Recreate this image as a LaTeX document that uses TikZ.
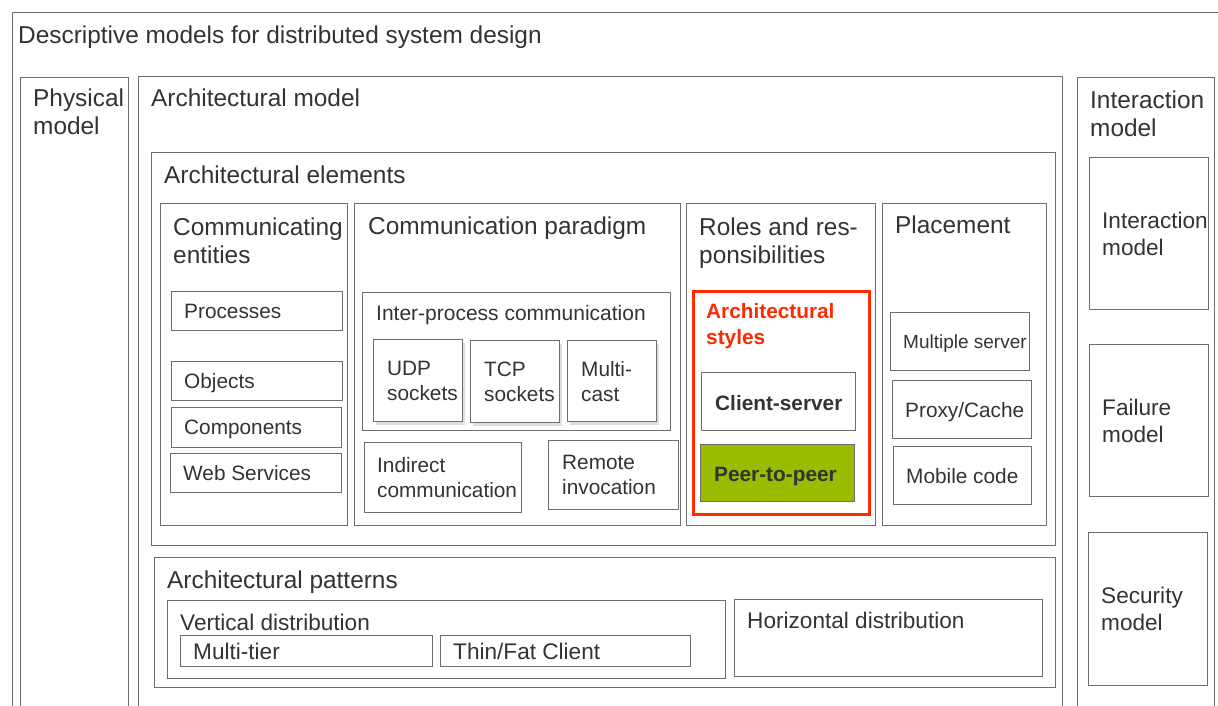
\documentclass[tikz,border=0pt]{standalone}
\usepackage{fontspec}
\setmainfont{Liberation Sans}
\usetikzlibrary{positioning,shadows}
\definecolor{linegray}{HTML}{6E6E6E}
\definecolor{textgray}{HTML}{333333}
\definecolor{stylered}{HTML}{FF2A00}
\definecolor{peergreen}{HTML}{99BB00}

\begin{document}
\begin{tikzpicture}[x=1pt, y=-1pt,
  cell/.style 2 args={draw=linegray, line width=1.2pt, rectangle, inner sep=0pt,
    anchor=north west, minimum width=#1pt, minimum height=#2pt},
  heading/.style={anchor=base west, inner sep=0pt, text=textgray, align=left,
    font=\fontsize{24.4}{28}\selectfont},
  sub_heading/.style={heading, font=\fontsize{21}{25}\selectfont},
  leaf/.style={inner sep=0pt, text=textgray, align=left, font=\fontsize{20.8}{25}\selectfont},
  big_leaf/.style={leaf, font=\fontsize{22.6}{27}\selectfont},
  sock/.style={fill=white, drop shadow={opacity=0.25, shadow xshift=2pt, shadow yshift=-3pt}},
  red_cell/.style={draw=stylered, line width=3pt},
  green_cell/.style={fill=peergreen}
  ]
	\fill[white] (0,0) rectangle (1218,706);
	\useasboundingbox (0,0) rectangle (1218,706);

	% outer frames (two-line headings sit on the baseline of their last line)
	\node[cell={1230}{720}] (desc) at (12,12) {};
	\node[heading] (desc-t) at (18,44) {Descriptive models for distributed system design};

	\node[cell={108}{650}] (phys) at (20,77) {};
	\node[heading] (phys-t) at (33,135) {Physical\\model};

	\node[cell={924}{650}] (arch) at (138,76) {};
	\node[heading] (arch-t) at (151,107) {Architectural model};

	\node[cell={137}{650}] (inter) at (1077,77) {};
	\node[heading] (inter-t) at (1090,136) {Interaction\\model};

	% architectural elements
	\node[cell={904}{393}] (elem) at (151,152) {};
	\node[heading] (elem-t) at (164,183) {Architectural elements};

	\node[cell={187}{322}] (comm) at (160,203) {};
	\node[heading] (comm-t) at (173,263) {Communicating\\entities};
	\node[cell={171}{39}] (proc) at (171,291) {};
	\node[leaf, right=13pt of proc.west] (proc-t) {Processes};
	\node[cell={171}{39}] (obj) at (171,361) {};
	\node[leaf, right=13pt of obj.west, yshift=-2pt] (obj-t) {Objects};
	\node[cell={170}{40}] (comp) at (171,407) {};
	\node[leaf, right=13pt of comp.west, yshift=-2pt] (comp-t) {Components};
	\node[cell={171}{39}] (web) at (170,453) {};
	\node[leaf, right=13pt of web.west] (web-t) {Web Services};

	\node[cell={326}{322}] (para) at (354,203) {};
	\node[heading] (para-t) at (368,234) {Communication paradigm};
	\node[cell={308}{138}] (ipc) at (362,292) {};
	\node[sub_heading] (ipc-t) at (376,320) {Inter-process communication};
	\node[cell={89}{82}, sock] (udp) at (373,339) {};
	\node[leaf, right=14pt of udp.west] (udp-t) {UDP\\sockets};
	\node[cell={89}{82}, sock] (tcp) at (470,340) {};
	\node[leaf, right=14pt of tcp.west] (tcp-t) {TCP\\sockets};
	\node[cell={89}{81}, sock] (mcast) at (567,340) {};
	\node[leaf, right=14pt of mcast.west] (mcast-t) {Multi-\\cast};
	\node[cell={157}{70}] (indir) at (364,442) {};
	\node[leaf, right=13pt of indir.west] (indir-t) {Indirect\\communication};
	\node[cell={130}{69}] (remote) at (548,440) {};
	\node[leaf, right=14pt of remote.west] (remote-t) {Remote\\invocation};

	\node[cell={189}{322}] (roles) at (686,203) {};
	\node[heading] (roles-t) at (699,263) {Roles and res-\\ponsibilities};
	\node[cell={176}{223}, red_cell] (styles) at (692,290) {};
	\node[leaf, anchor=base west, text=stylered, font=\fontsize{20.8}{26}\selectfont\bfseries] (styles-t) at (706,344) {Architectural\\styles};
	\node[cell={154}{58}] (cs) at (701,372) {};
	\node[leaf, font=\fontsize{20.8}{25}\selectfont\bfseries, right=14pt of cs.west, yshift=-1pt] (cs-t) {Client-server};
	\node[cell={154}{57}, green_cell] (p2p) at (700,444) {};
	\node[leaf, font=\fontsize{20.8}{25}\selectfont\bfseries, right=14pt of p2p.west, yshift=-3pt] (p2p-t) {Peer-to-peer};

	\node[cell={164}{322}] (place) at (882,203) {};
	\node[heading] (place-t) at (895,233) {Placement};
	\node[cell={139}{58}] (multi) at (890,312) {};
	\node[leaf, font=\fontsize{19}{23}\selectfont, right=13pt of multi.west, yshift=-2pt] (multi-t) {Multiple server};
	\node[cell={139}{58}] (proxy) at (892,380) {};
	\node[leaf, right=13pt of proxy.west, yshift=-3pt] (proxy-t) {Proxy/Cache};
	\node[cell={138}{58}] (mobile) at (893,446) {};
	\node[leaf, right=13pt of mobile.west] (mobile-t) {Mobile code};

	% architectural patterns
	\node[cell={901}{130}] (pat) at (154,557) {};
	\node[heading] (pat-t) at (167,588) {Architectural patterns};
	\node[cell={558}{78}] (vert) at (167,600) {};
	\node[heading, font=\fontsize{22.6}{27}\selectfont] (vert-t) at (180,630) {Vertical distribution};
	\node[cell={252}{31}] (mtier) at (180,635) {};
	\node[big_leaf, right=13pt of mtier.west] (mtier-t) {Multi-tier};
	\node[cell={250}{31}] (thin) at (440,635) {};
	\node[big_leaf, right=13pt of thin.west] (thin-t) {Thin/Fat Client};
	\node[cell={308}{77}] (horiz) at (734,599) {};
	\node[heading, font=\fontsize{22.6}{27}\selectfont] (horiz-t) at (747,628) {Horizontal distribution};

	% fundamental models
	\node[cell={119}{152}] (imod) at (1089,157) {};
	\node[big_leaf, right=13pt of imod.west] (imod-t) {Interaction\\model};
	\node[cell={119}{152}] (fmod) at (1089,344) {};
	\node[big_leaf, right=13pt of fmod.west] (fmod-t) {Failure\\model};
	\node[cell={119}{153}] (smod) at (1088,532) {};
	\node[big_leaf, right=13pt of smod.west] (smod-t) {Security\\model};
\end{tikzpicture}
\end{document}
